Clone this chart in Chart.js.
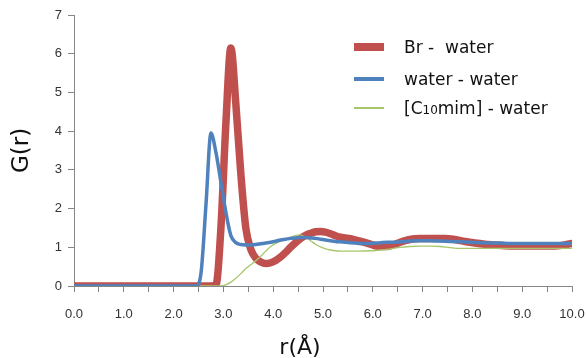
<!DOCTYPE html>
<html>
<head>
<meta charset="utf-8">
<script src="https://cdn.jsdelivr.net/npm/chart.js@4/dist/chart.umd.min.js"></script>
<style>
  body { margin: 0; background: #fff; }
  #wrap { position: relative; width: 586px; height: 358px; overflow: hidden; }
  #legenda { position: absolute; left: 0; top: 0; font-family: "DejaVu Sans", sans-serif; font-size: 17px; color: #111; }
  .item { position: absolute; left: 354px; white-space: nowrap; }
  .item span.amostra { position: absolute; left: 0; width: 30px; }
  .item span.texto { position: absolute; left: 50px; line-height: 20px; }
  .item sub { font-size: 12px; vertical-align: 0; }
  #titulo-x { position: absolute; left: 240px; width: 120px; top: 334px; text-align: center;
              font-family: "DejaVu Sans", sans-serif; font-size: 22px; line-height: 26px; color: #111; }
</style>
</head>
<body>
<div id="wrap">
  <canvas id="grafico" width="586" height="358"></canvas>
  <div id="legenda">
    <div class="item" style="top:47px"><span class="amostra" style="height:8px;top:-4px;background:#C0504D"></span><span class="texto" style="top:-10px">Br -&nbsp;&nbsp;water</span></div>
    <div class="item" style="top:79px"><span class="amostra" style="height:4px;top:-2px;background:#4F81BD"></span><span class="texto" style="top:-10px">water - water</span></div>
    <div class="item" style="top:108px"><span class="amostra" style="height:2px;top:-1px;background:#A8C66C"></span><span class="texto" style="top:-10px">[C<sub>10</sub>mim] - water</span></div>
  </div>
  <div id="titulo-x">r(Å)</div>
</div>
<script>
// valores (r em Å, G(r))
const rBr = [0, 2.75, 2.85, 2.95, 3.05, 3.15, 3.25, 3.35, 3.45, 3.55, 3.65, 3.75, 3.85, 3.95, 4.05, 4.15, 4.25, 4.35, 4.45, 4.55, 4.65, 4.75, 4.85, 4.95, 5.05, 5.15, 5.25, 5.35, 5.45, 5.55, 5.65, 5.75, 5.85, 5.95, 6.05, 6.15, 6.25, 6.35, 6.45, 6.55, 6.65, 6.75, 6.85, 6.95, 7.05, 7.25, 7.45, 7.65, 7.85, 8.05, 8.25, 8.45, 8.65, 8.85, 9.05, 9.25, 9.45, 9.65, 9.85, 10.0];
const gBr = [0, 0, 0.02, 1.5, 4.2, 6.15, 4.7, 2.9, 1.5, 0.95, 0.72, 0.62, 0.58, 0.6, 0.66, 0.75, 0.87, 1.0, 1.12, 1.23, 1.31, 1.36, 1.4, 1.41, 1.39, 1.35, 1.3, 1.26, 1.24, 1.22, 1.19, 1.16, 1.12, 1.08, 1.04, 1.02, 1.02, 1.04, 1.08, 1.13, 1.17, 1.2, 1.22, 1.23, 1.23, 1.23, 1.23, 1.2, 1.15, 1.11, 1.08, 1.06, 1.04, 1.03, 1.03, 1.03, 1.03, 1.03, 1.06, 1.1];

const rAgua = [0, 2.45, 2.55, 2.65, 2.75, 2.85, 2.95, 3.05, 3.15, 3.25, 3.35, 3.45, 3.55, 3.65, 3.75, 3.85, 3.95, 4.05, 4.15, 4.25, 4.35, 4.45, 4.55, 4.65, 4.75, 4.85, 4.95, 5.05, 5.15, 5.25, 5.35, 5.45, 5.55, 5.65, 5.75, 5.85, 5.95, 6.15, 6.35, 6.55, 6.75, 6.95, 7.15, 7.35, 7.55, 7.75, 7.95, 8.15, 8.35, 8.55, 8.75, 8.95, 9.25, 9.55, 9.85, 10.0];
const gAgua = [0, 0, 0.33, 2.1, 3.95, 3.45, 2.68, 1.9, 1.3, 1.12, 1.07, 1.06, 1.06, 1.07, 1.09, 1.11, 1.13, 1.16, 1.19, 1.21, 1.23, 1.24, 1.25, 1.25, 1.24, 1.23, 1.21, 1.19, 1.17, 1.15, 1.14, 1.13, 1.12, 1.11, 1.1, 1.1, 1.1, 1.12, 1.13, 1.14, 1.16, 1.17, 1.17, 1.16, 1.15, 1.14, 1.13, 1.12, 1.11, 1.11, 1.1, 1.1, 1.1, 1.1, 1.1, 1.1];

const rC10 = [0, 2.95, 3.05, 3.15, 3.25, 3.35, 3.45, 3.55, 3.65, 3.75, 3.85, 3.95, 4.05, 4.15, 4.25, 4.35, 4.45, 4.55, 4.65, 4.75, 4.85, 4.95, 5.05, 5.15, 5.25, 5.35, 5.55, 5.75, 5.95, 6.15, 6.35, 6.55, 6.75, 6.95, 7.15, 7.35, 7.55, 7.75, 7.95, 8.25, 8.55, 8.85, 9.15, 9.45, 9.75, 10.0];
const gC10 = [0, 0, 0.03, 0.1, 0.2, 0.32, 0.45, 0.55, 0.65, 0.77, 0.9, 1.02, 1.1, 1.16, 1.21, 1.26, 1.31, 1.32, 1.26, 1.17, 1.08, 1.01, 0.96, 0.93, 0.91, 0.9, 0.9, 0.9, 0.91, 0.93, 0.96, 1.0, 1.02, 1.03, 1.03, 1.02, 0.99, 0.97, 0.97, 0.97, 0.97, 0.97, 0.97, 0.97, 0.97, 0.97];

// marcas do eixo x a cada 0,5 Å (rótulo só nos inteiros)
const ticksX = [0, 0.5, 1, 1.5, 2, 2.5, 3, 3.5, 4, 4.5, 5, 5.5, 6, 6.5, 7, 7.5, 8, 8.5, 9, 9.5, 10];
const ticksY = [0, 1, 2, 3, 4, 5, 6, 7];

const pares = (xs, ys) => xs.map((x, i) => ({ x, y: ys[i] }));

const corEixo = '#868686';
const fonteTick = { family: 'Liberation Sans', size: 13 };
const fonteTitulo = { family: 'DejaVu Sans', size: 23 };

function serie(label, xs, ys, cor, largura, ordem) {
  return {
    label, data: pares(xs, ys), borderColor: cor, borderWidth: largura,
    pointRadius: 0, fill: false, cubicInterpolationMode: 'monotone',
    borderCapStyle: 'round', borderJoinStyle: 'round', order: ordem
  };
}

new Chart(document.getElementById('grafico'), {
  type: 'line',
  data: {
    datasets: [
      serie('Br - water', rBr, gBr, '#C0504D', 7.5, 3),
      serie('water - water', rAgua, gAgua, '#4F81BD', 3.5, 1),
      serie('[C10mim] - water', rC10, gC10, '#A8C66C', 1.3, 2)
    ]
  },
  options: {
    responsive: false,
    animation: false,
    devicePixelRatio: 1,
    layout: { padding: { left: 0, right: 14, top: 15, bottom: 0 } },
    plugins: { legend: { display: false }, tooltip: { enabled: false } },
    scales: {
      x: {
        type: 'linear', min: 0, max: 10,
        afterFit: s => { s.height = 72; s.paddingLeft = 0; s.paddingRight = 0; },
        afterBuildTicks: s => { s.ticks = ticksX.map(v => ({ value: v })); },
        border: { color: corEixo, width: 1 },
        grid: { display: true, drawOnChartArea: false, drawTicks: true, tickLength: 6, color: corEixo },
        ticks: {
          autoSkip: false, maxRotation: 0, padding: 15, color: '#333', font: fonteTick,
          callback: v => Number.isInteger(v) ? v.toFixed(1) : ''
        }
      },
      y: {
        min: 0, max: 7,
        afterFit: s => { s.width = 74; },
        afterBuildTicks: s => { s.ticks = ticksY.map(v => ({ value: v })); },
        border: { color: corEixo, width: 1 },
        grid: { display: true, drawOnChartArea: false, drawTicks: true, tickLength: 6, color: corEixo },
        ticks: { padding: 6, color: '#333', font: fonteTick },
        title: { display: true, text: 'G(r)', color: '#111', font: fonteTitulo, padding: { top: 8, bottom: 0 } }
      }
    }
  }
});
</script>
</body>
</html>
